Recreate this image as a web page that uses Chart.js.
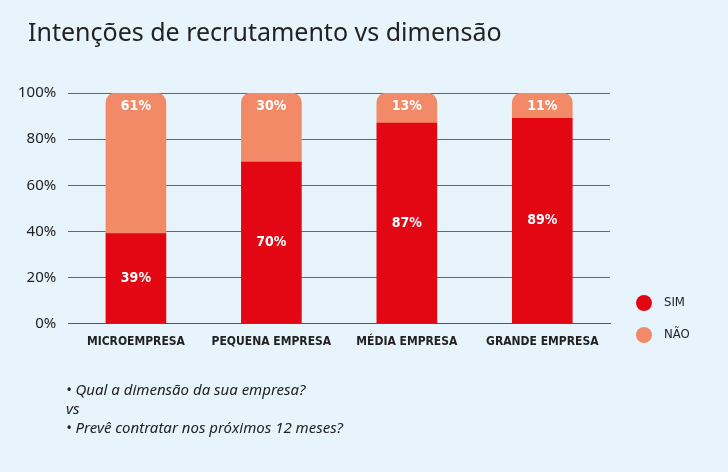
<!DOCTYPE html>
<html>
<head>
<meta charset="utf-8">
<script src="https://cdn.jsdelivr.net/npm/chart.js@4"></script>
<style>
  body { margin: 0; width: 728px; height: 472px; background: #e8f4fc; font-family: "Noto Sans", sans-serif; position: relative; overflow: hidden; }
  #title { position: absolute; left: 28px; top: 14px; font-size: 25px; color: #222; }
  #wrap { position: absolute; left: 0; top: 0; width: 728px; height: 472px; }
  .legend { position: absolute; left: 636px; font-family: "DejaVu Sans Condensed", sans-serif; font-size: 13px; color: #222; }
  .legend span { display: inline-block; width: 16px; height: 16px; border-radius: 50%; vertical-align: middle; margin-right: 12px; }
  #notes { position: absolute; left: 66px; top: 380px; font-size: 15px; font-style: italic; color: #222; line-height: 19px; }
</style>
</head>
<body>
<div id="wrap"><canvas id="chart" width="728" height="472"></canvas></div>
<div id="title">Intenções de recrutamento vs dimensão</div>
<div class="legend" style="top:294px"><span style="background:#e30613"></span>SIM</div>
<div class="legend" style="top:326px"><span style="background:#f28a68"></span>NÃO</div>
<div id="notes">• Qual a dimensão da sua empresa?<br>vs<br>• Prevê contratar nos próximos 12 meses?</div>
<script>
const categories = ['MICROEMPRESA', 'PEQUENA EMPRESA', 'MÉDIA EMPRESA', 'GRANDE EMPRESA'];
const simValues = [39, 70, 87, 89];
const naoValues = [61, 30, 13, 11];
const yTicks = [0, 20, 40, 60, 80, 100];

const labelPlugin = {
  id: 'labels',
  afterDatasetsDraw(chart) {
    const ctx = chart.ctx;
    ctx.save();
    ctx.fillStyle = '#fff';
    ctx.font = 'bold 14px "DejaVu Sans Condensed", sans-serif';
    ctx.textAlign = 'center';
    ctx.textBaseline = 'middle';
    chart.getDatasetMeta(0).data.forEach((bar, i) => {
      ctx.fillText(simValues[i] + '%', bar.x, (bar.y + bar.base) / 2);
    });
    chart.getDatasetMeta(1).data.forEach((bar, i) => {
      ctx.fillText(naoValues[i] + '%', bar.x, bar.y + 13);
    });
    ctx.restore();
  }
};

new Chart(document.getElementById('chart'), {
  type: 'bar',
  data: {
    labels: categories,
    datasets: [
      { label: 'SIM', data: simValues, backgroundColor: '#e30613', barThickness: 60 },
      { label: 'NÃO', data: naoValues, backgroundColor: '#f28a68', barThickness: 60,
        borderRadius: { topLeft: 10, topRight: 10 }, borderSkipped: 'bottom' }
    ]
  },
  options: {
    responsive: false,
    animation: false,
    layout: { padding: { top: 93, bottom: 120, left: 6, right: 118 } },
    plugins: { legend: { display: false }, tooltip: { enabled: false } },
    scales: {
      x: {
        stacked: true,
        grid: { display: false },
        border: { color: '#555' },
        ticks: { color: '#222', font: { family: 'DejaVu Sans Condensed', weight: 'bold', size: 12 } }
      },
      y: {
        stacked: true, min: 0, max: 100,
        afterBuildTicks: axis => { axis.ticks = yTicks.map(v => ({ value: v })); },
        grid: { color: '#666', drawTicks: false },
        border: { display: false },
        ticks: { color: '#222', padding: 12, font: { family: 'Noto Sans', size: 15 }, callback: v => v + '%' }
      }
    }
  },
  plugins: [labelPlugin]
});
</script>
</body>
</html>
